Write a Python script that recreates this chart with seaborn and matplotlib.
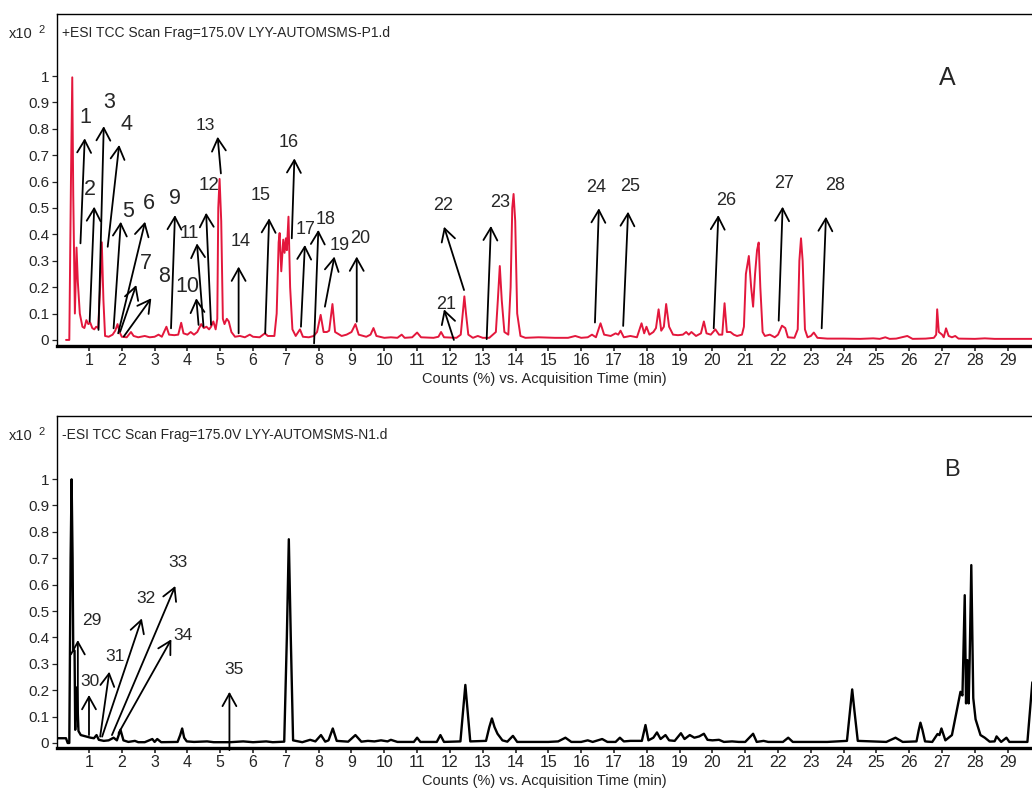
import pandas as pd
import seaborn as sns
import matplotlib.pyplot as plt

# ---- chromatogram A (+ESI): time (min), counts (x10^2 %)
time_a = [0.30, 0.40, 0.45, 0.49, 0.52, 0.57, 0.62, 0.66, 0.72, 0.80,
          0.86, 0.92, 0.98, 1.04, 1.10, 1.16, 1.22, 1.28, 1.34, 1.39,
          1.44, 1.49, 1.60, 1.72, 1.80, 1.87, 1.93, 2.00, 2.15, 2.28,
          2.36, 2.50, 2.70, 2.85, 3.00, 3.12, 3.22, 3.36, 3.44, 3.60,
          3.72, 3.81, 3.88, 4.00, 4.10, 4.20, 4.30, 4.42, 4.50, 4.58,
          4.66, 4.72, 4.79, 4.86, 4.91, 4.94, 4.98, 5.03, 5.08, 5.13,
          5.20, 5.26, 5.34, 5.45, 5.60, 5.75, 5.90, 6.00, 6.20, 6.36,
          6.45, 6.65, 6.72, 6.78, 6.81, 6.86, 6.92, 6.96, 7.00, 7.03,
          7.08, 7.13, 7.20, 7.30, 7.43, 7.52, 7.70, 7.85, 7.95, 8.06,
          8.15, 8.25, 8.32, 8.42, 8.50, 8.70, 8.85, 9.00, 9.12, 9.22,
          9.45, 9.58, 9.67, 9.76, 10.00, 10.20, 10.40, 10.53, 10.62, 10.85,
          11.00, 11.12, 11.50, 11.65, 11.73, 11.82, 12.20, 12.33, 12.39, 12.44,
          12.49, 12.56, 12.70, 12.85, 13.00, 13.20, 13.40, 13.46, 13.52, 13.58,
          13.66, 13.78, 13.85, 13.90, 13.94, 13.99, 14.05, 14.15, 14.30, 14.70,
          15.20, 15.60, 15.82, 16.00, 16.20, 16.33, 16.45, 16.59, 16.70, 16.90,
          17.05, 17.13, 17.20, 17.30, 17.50, 17.70, 17.84, 17.92, 17.99, 18.08,
          18.20, 18.28, 18.36, 18.44, 18.52, 18.59, 18.68, 18.80, 18.95, 19.10,
          19.20, 19.28, 19.36, 19.50, 19.65, 19.74, 19.82, 19.95, 20.09, 20.20,
          20.30, 20.37, 20.44, 20.55, 20.65, 20.75, 20.90, 20.96, 21.02, 21.11,
          21.18, 21.24, 21.30, 21.36, 21.41, 21.46, 21.53, 21.60, 21.75, 21.90,
          22.00, 22.12, 22.22, 22.30, 22.50, 22.60, 22.65, 22.70, 22.75, 22.82,
          22.90, 23.00, 23.09, 23.20, 23.50, 24.00, 24.50, 24.90, 25.10, 25.27,
          25.40, 25.60, 25.94, 26.10, 26.50, 26.75, 26.82, 26.85, 26.90, 27.00,
          27.05, 27.12, 27.20, 27.30, 27.40, 27.50, 28.00, 28.30, 28.60, 29.00,
          29.75]
counts_a = [0.0, 0.0, 0.6, 0.995, 0.55, 0.10, 0.35, 0.22, 0.10, 0.05,
            0.045, 0.075, 0.06, 0.065, 0.045, 0.04, 0.05, 0.045, 0.20, 0.37,
            0.15, 0.015, 0.012, 0.02, 0.035, 0.06, 0.03, 0.012, 0.01, 0.03,
            0.015, 0.01, 0.015, 0.01, 0.012, 0.02, 0.012, 0.05, 0.02, 0.018,
            0.02, 0.065, 0.025, 0.02, 0.03, 0.02, 0.03, 0.06, 0.045, 0.05,
            0.04, 0.05, 0.07, 0.04, 0.08, 0.50, 0.61, 0.45, 0.08, 0.06,
            0.08, 0.07, 0.03, 0.012, 0.015, 0.01, 0.02, 0.012, 0.01, 0.025,
            0.015, 0.015, 0.10, 0.37, 0.405, 0.26, 0.38, 0.33, 0.385, 0.34,
            0.467, 0.20, 0.04, 0.015, 0.04, 0.012, 0.01, 0.015, 0.03, 0.095,
            0.03, 0.03, 0.035, 0.136, 0.03, 0.015, 0.02, 0.03, 0.06, 0.02,
            0.012, 0.02, 0.045, 0.015, 0.008, 0.01, 0.008, 0.02, 0.008, 0.01,
            0.028, 0.01, 0.008, 0.012, 0.03, 0.01, 0.008, 0.02, 0.10, 0.165,
            0.10, 0.02, 0.008, 0.015, 0.008, 0.008, 0.03, 0.15, 0.28, 0.15,
            0.03, 0.02, 0.20, 0.50, 0.553, 0.45, 0.10, 0.015, 0.008, 0.01,
            0.008, 0.008, 0.015, 0.008, 0.01, 0.02, 0.01, 0.063, 0.02, 0.015,
            0.025, 0.02, 0.035, 0.01, 0.015, 0.01, 0.063, 0.025, 0.05, 0.02,
            0.03, 0.045, 0.116, 0.035, 0.05, 0.136, 0.05, 0.02, 0.018, 0.02,
            0.03, 0.02, 0.03, 0.015, 0.025, 0.07, 0.025, 0.02, 0.04, 0.02,
            0.02, 0.139, 0.03, 0.03, 0.02, 0.015, 0.02, 0.05, 0.25, 0.318,
            0.20, 0.126, 0.25, 0.34, 0.369, 0.20, 0.03, 0.015, 0.02, 0.01,
            0.02, 0.054, 0.045, 0.01, 0.008, 0.04, 0.30, 0.385, 0.30, 0.04,
            0.01, 0.015, 0.028, 0.008, 0.005, 0.005, 0.004, 0.006, 0.004, 0.01,
            0.004, 0.005, 0.015, 0.004, 0.005, 0.008, 0.02, 0.116, 0.03, 0.02,
            0.01, 0.044, 0.015, 0.01, 0.015, 0.005, 0.004, 0.006, 0.004, 0.004,
            0.004]

# ---- chromatogram B (-ESI)
time_b = [0.03, 0.30, 0.35, 0.40, 0.44, 0.47, 0.50, 0.52, 0.56, 0.58,
          0.60, 0.63, 0.68, 0.75, 0.90, 1.05, 1.15, 1.23, 1.30, 1.45,
          1.60, 1.75, 1.85, 1.96, 2.05, 2.20, 2.40, 2.50, 2.70, 2.93,
          3.00, 3.08, 3.20, 3.70, 3.78, 3.84, 3.90, 3.98, 4.20, 4.60,
          4.80, 5.30, 5.70, 6.00, 6.40, 6.60, 6.95, 7.03, 7.09, 7.15,
          7.22, 7.50, 7.74, 7.90, 8.07, 8.20, 8.30, 8.43, 8.55, 8.90,
          9.12, 9.30, 9.50, 9.70, 9.90, 10.10, 10.20, 10.40, 10.90, 11.00,
          11.10, 11.60, 11.71, 11.82, 12.32, 12.40, 12.47, 12.54, 12.62, 13.10,
          13.20, 13.28, 13.36, 13.45, 13.60, 13.75, 13.92, 14.05, 15.00, 15.30,
          15.52, 15.70, 16.00, 16.20, 16.35, 16.64, 16.80, 17.05, 17.18, 17.30,
          17.50, 17.85, 17.96, 18.05, 18.20, 18.31, 18.42, 18.57, 18.68, 18.85,
          19.04, 19.15, 19.31, 19.45, 19.60, 19.74, 19.85, 20.00, 20.20, 20.35,
          20.60, 20.80, 21.00, 21.24, 21.35, 21.56, 21.70, 22.15, 22.31, 22.45,
          23.50, 24.10, 24.19, 24.26, 24.33, 24.43, 25.30, 25.58, 25.80, 26.22,
          26.29, 26.34, 26.40, 26.48, 26.70, 26.86, 26.92, 26.98, 27.10, 27.30,
          27.45, 27.56, 27.62, 27.69, 27.73, 27.77, 27.81, 27.84, 27.89, 27.95,
          28.02, 28.17, 28.30, 28.45, 28.60, 28.66, 28.80, 28.96, 29.05, 29.60,
          29.75]
counts_b = [0.018, 0.018, 0.0, 0.0, 0.70, 0.999, 0.70, 0.35, 0.35, 0.05,
            0.21, 0.21, 0.045, 0.03, 0.025, 0.02, 0.018, 0.03, 0.012, 0.008,
            0.01, 0.02, 0.01, 0.05, 0.01, 0.004, 0.008, 0.003, 0.003, 0.015,
            0.004, 0.015, 0.003, 0.004, 0.03, 0.055, 0.02, 0.006, 0.004, 0.006,
            0.003, 0.003, 0.006, 0.003, 0.006, 0.003, 0.005, 0.40, 0.772, 0.40,
            0.01, 0.003, 0.012, 0.006, 0.03, 0.005, 0.01, 0.055, 0.008, 0.005,
            0.03, 0.005, 0.008, 0.006, 0.01, 0.006, 0.012, 0.004, 0.004, 0.02,
            0.004, 0.004, 0.03, 0.004, 0.006, 0.12, 0.22, 0.12, 0.006, 0.008,
            0.06, 0.093, 0.06, 0.035, 0.01, 0.005, 0.027, 0.004, 0.004, 0.006,
            0.02, 0.004, 0.004, 0.01, 0.004, 0.015, 0.004, 0.004, 0.02, 0.006,
            0.008, 0.008, 0.068, 0.01, 0.02, 0.04, 0.015, 0.03, 0.01, 0.008,
            0.037, 0.015, 0.03, 0.02, 0.025, 0.035, 0.012, 0.01, 0.012, 0.004,
            0.006, 0.004, 0.004, 0.035, 0.004, 0.008, 0.004, 0.004, 0.02, 0.004,
            0.004, 0.008, 0.12, 0.203, 0.12, 0.008, 0.004, 0.02, 0.004, 0.006,
            0.05, 0.077, 0.05, 0.006, 0.004, 0.034, 0.03, 0.055, 0.01, 0.03,
            0.125, 0.194, 0.18, 0.56, 0.15, 0.314, 0.15, 0.314, 0.674, 0.17,
            0.09, 0.03, 0.02, 0.005, 0.006, 0.025, 0.004, 0.02, 0.004, 0.004,
            0.23]

x_ticks = list(range(1, 30))
y_ticks = [0, 0.1, 0.2, 0.3, 0.4, 0.5, 0.6, 0.7, 0.8, 0.9, 1]
y_tick_labels = ["0", "0.1", "0.2", "0.3", "0.4", "0.5", "0.6", "0.7", "0.8", "0.9", "1"]

# peak labels: (label, tail x, tail y, head x, head y, text x, text y, font size)
arrows_a = [
    ("1", 0.74, 0.366, 0.87, 0.764, 0.89, 0.843, 15.5),
    ("2", 1.02, 0.069, 1.16, 0.505, 1.04, 0.571, 15.5),
    ("3", 1.29, 0.038, 1.45, 0.810, 1.62, 0.899, 15.5),
    ("4", 1.57, 0.353, 1.92, 0.739, 2.14, 0.818, 15.5),
    ("5", 1.75, 0.044, 1.97, 0.448, 2.18, 0.486, 15.5),
    ("6", 1.89, 0.025, 2.71, 0.448, 2.82, 0.518, 15.5),
    ("7", 1.95, 0.031, 2.44, 0.208, 2.72, 0.288, 15.5),
    ("8", 2.06, 0.013, 2.90, 0.158, 3.30, 0.240, 15.5),
    ("9", 3.50, 0.044, 3.62, 0.473, 3.63, 0.537, 15.5),
    ("10", 4.34, 0.057, 4.27, 0.158, 3.99, 0.202, 15.5),
    ("11", 4.49, 0.050, 4.29, 0.366, 4.07, 0.404, 13.5),
    ("12", 4.72, 0.057, 4.57, 0.482, 4.65, 0.587, 13.5),
    ("13", 5.02, 0.631, 4.92, 0.770, 4.54, 0.812, 12.5),
    ("14", 5.56, 0.025, 5.56, 0.278, 5.63, 0.372, 13),
    ("15", 6.37, 0.025, 6.49, 0.461, 6.24, 0.549, 13),
    ("16", 7.18, 0.385, 7.26, 0.688, 7.10, 0.747, 13),
    ("17", 7.46, 0.050, 7.58, 0.360, 7.61, 0.417, 13),
    ("18", 7.86, -0.013, 7.99, 0.417, 8.22, 0.457, 13),
    ("19", 8.19, 0.126, 8.48, 0.316, 8.63, 0.356, 13),
    ("20", 9.16, 0.069, 9.16, 0.316, 9.26, 0.385, 13),
    ("21", 12.12, 0.000, 11.82, 0.116, 11.88, 0.133, 13),
    ("22", 12.43, 0.189, 11.82, 0.429, 11.80, 0.511, 13),
    ("23", 13.12, 0.003, 13.25, 0.432, 13.52, 0.520, 13),
    ("24", 16.42, 0.066, 16.54, 0.499, 16.47, 0.578, 13),
    ("25", 17.28, 0.053, 17.43, 0.486, 17.48, 0.583, 13),
    ("26", 20.04, 0.044, 20.18, 0.473, 20.43, 0.528, 13),
    ("27", 22.02, 0.073, 22.14, 0.505, 22.18, 0.594, 13),
    ("28", 23.33, 0.044, 23.46, 0.467, 23.73, 0.587, 13),
]
arrows_b = [
    ("29", 0.66, 0.062, 0.66, 0.390, 1.09, 0.466, 12.5),
    ("30", 1.00, 0.030, 1.00, 0.182, 1.04, 0.232, 12.5),
    ("31", 1.34, 0.024, 1.62, 0.270, 1.78, 0.327, 12.5),
    ("32", 1.40, 0.024, 2.61, 0.472, 2.75, 0.548, 12.5),
    ("33", 1.70, 0.030, 3.63, 0.595, 3.70, 0.683, 12.5),
    ("34", 1.90, 0.037, 3.51, 0.393, 3.86, 0.409, 12.5),
    ("35", 5.28, -0.027, 5.28, 0.194, 5.41, 0.279, 12.5),
]

sns.set_style("white")
plt.rcParams['font.family'] = ['Liberation Sans', 'DejaVu Sans']

W, H = 1032, 794
fig = plt.figure(figsize=(W / 100, H / 100), dpi=100)
ax_a = fig.add_axes([57 / W, 1 - 346 / H, 975 / W, 332 / H])
ax_b = fig.add_axes([57 / W, 1 - 748 / H, 975 / W, 332 / H])

df_a = pd.DataFrame({"time": time_a, "counts": counts_a})
df_b = pd.DataFrame({"time": time_b, "counts": counts_b})
sns.lineplot(data=df_a, x="time", y="counts", ax=ax_a, color="#E3173C", lw=1.4, estimator=None)
sns.lineplot(data=df_b, x="time", y="counts", ax=ax_b, color="black", lw=1.7, estimator=None)


def style_axis(ax, ylim, title, top_px):
    ax.set_xlim(0.025, 29.74)
    ax.set_ylim(*ylim)
    ax.spines['right'].set_visible(False)
    ax.spines['left'].set_linewidth(1.0)
    ax.spines['top'].set_linewidth(1.0)
    ax.spines['bottom'].set_linewidth(2.4)
    for s in ax.spines.values():
        s.set_color("black")
    ax.set_xticks(x_ticks)
    ax.set_yticks(y_ticks)
    ax.set_yticklabels(y_tick_labels)
    ax.tick_params(axis='y', direction='out', length=3.5, width=0.9, pad=2, labelsize=11, left=True)
    ax.tick_params(axis='x', direction='out', length=3.5, width=1.2, pad=1.5, labelsize=11.5, bottom=True)
    ax.set_xlabel("Counts (%) vs. Acquisition Time (min)", fontsize=10.5, labelpad=3)
    ax.set_ylabel("")
    ax.text(0.005, 0.943, title, transform=ax.transAxes, fontsize=10, va='center', ha='left')
    fig.text(9 / W, 1 - (top_px + 20) / H, "x10", fontsize=10.5, va='center', ha='left')
    fig.text(38 / W, 1 - (top_px + 16) / H, "2", fontsize=8, va='center', ha='left')


def draw_arrows(ax, arrows):
    for lab, tx, ty, hx, hy, lx, ly, fs in arrows:
        ax.annotate("", xy=(hx, hy), xytext=(tx, ty), annotation_clip=False,
                    arrowprops=dict(arrowstyle="->,head_length=0.9,head_width=0.5",
                                    color="black", lw=1.3, shrinkA=0, shrinkB=0))
        ax.text(lx, ly, lab, fontsize=fs, ha='center', va='center')


style_axis(ax_a, (-0.023, 1.235), "+ESI TCC Scan Frag=175.0V LYY-AUTOMSMS-P1.d", 14)
style_axis(ax_b, (-0.019, 1.239), "-ESI TCC Scan Frag=175.0V LYY-AUTOMSMS-N1.d", 416)
draw_arrows(ax_a, arrows_a)
draw_arrows(ax_b, arrows_b)
ax_a.text(27.17, 0.992, "A", fontsize=18, ha='center', va='center')
ax_b.text(27.29, 1.034, "B", fontsize=17, ha='center', va='center')

fig.savefig("out.png", dpi=100)
